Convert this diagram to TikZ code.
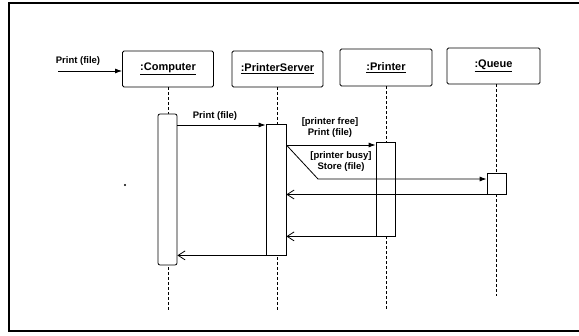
\documentclass[tikz,border=0pt]{standalone}
\usepackage{fontspec}
\setmainfont{Liberation Sans}
\usetikzlibrary{arrows.meta}
\begin{document}
\begin{tikzpicture}[x=1pt,y=-1pt,
  objbox/.style={draw,line width=0.9pt,rounded corners=1.5pt,minimum width=91pt,minimum height=36pt,inner sep=0pt,
    font=\fontsize{11}{13}\selectfont\bfseries},
  actbox/.style={draw,line width=0.8pt,fill=white,minimum width=19pt,inner sep=0pt},
  lifeline/.style={line width=0.8pt,dash pattern=on 3pt off 2pt},
  callarrow/.style={line width=0.8pt,-{Latex[length=7pt,width=5pt]}},
  retarrow/.style={line width=0.8pt,-{Straight Barb[length=7pt,width=9pt]}},
  msglabel/.style={font=\fontsize{9.5}{11}\selectfont\bfseries,inner sep=0pt,align=center}]
\useasboundingbox (0,0) rectangle (579,336);
\begin{scope}
\clip (0,0) rectangle (579,336);
\draw[line width=1.3pt] (9,3) rectangle (600,331);
\end{scope}
% objects
\node[objbox] (comp) at (168,69) {\underline{:Computer}};
\node[objbox] (psrv) at (277.5,69) {\underline{:PrinterServer}};
\node[objbox,minimum width=92pt,minimum height=37pt] (prt) at (386,67.5) {\underline{:Printer}};
\node[objbox,minimum width=93pt] (que) at (493.5,66) {\underline{:Queue}};
% lifeline end points
\coordinate (compE) at (168,310);
\coordinate (psrvE) at (277.5,310);
\coordinate (prtE) at (386,309);
\coordinate (queE) at (496.5,296);
\draw[lifeline] (comp.south) -- (compE);
\draw[lifeline] (psrv.south) -- (psrvE);
\draw[lifeline] (prt.south) -- (prtE);
\draw[lifeline] (que.south -| queE) -- (queE);
% activations
\node[actbox,minimum height=151pt,rounded corners=2pt] (compA) at (167.5,189.5) {};
\node[actbox,minimum width=20pt,minimum height=131pt] (srvA) at (276,189.5) {};
\node[actbox,minimum height=94pt] (prtA) at (385.5,189) {};
\node[actbox,minimum height=21pt] (queA) at (496.5,183.5) {};
% external message
\coordinate (ext) at (58,71);
\node[msglabel] (lblExt) at (78,61) {Print (file)};
\draw[callarrow] (ext) -- (ext -| comp.west);
% Computer -> PrinterServer
\coordinate (m1) at (177,125);
\draw[callarrow] (m1 -| compA.east) -- (m1 -| srvA.west);
\node[msglabel] (lblM1) at (215,116) {Print (file)};
% PrinterServer -> Printer
\coordinate (m2) at (286,145);
\draw[callarrow] (m2 -| srvA.east) -- (m2 -| prtA.west);
\node[msglabel] (lblM2) at (330,127.5) {[printer free]\\Print (file)};
% PrinterServer -> Queue
\coordinate (m3b) at (318,179);
\draw[callarrow] (m2 -| srvA.east) -- (m3b) -- (m3b -| queA.west);
\node[msglabel] (lblM3) at (341,161.5) {[printer busy]\\Store (file)};
% returns
\coordinate (r1) at (400,194.5);
\draw[retarrow] (r1 -| queA.west) -- (r1 -| srvA.east);
\draw[retarrow] (prtA.south west) -- (prtA.south west -| srvA.east);
\draw[retarrow] (srvA.south east) -- (srvA.south east -| compA.east);
% stray dot
\fill (125,185) circle (1.2pt);
\end{tikzpicture}
\end{document}
